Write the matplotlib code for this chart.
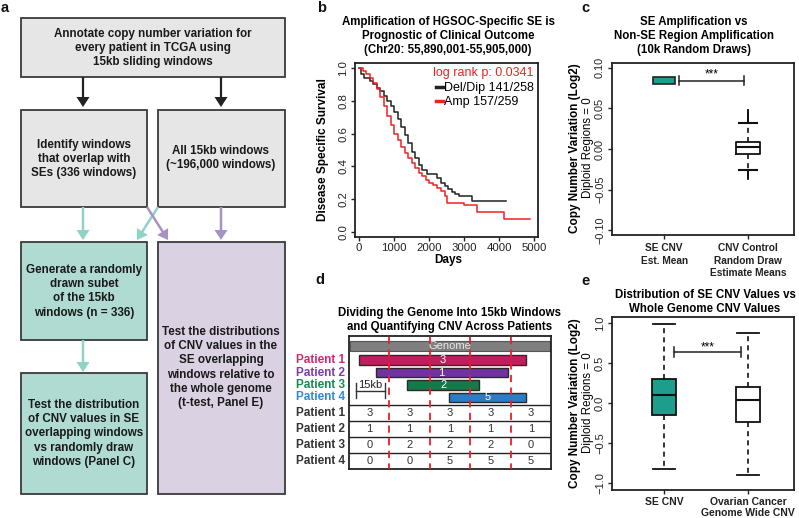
import matplotlib
matplotlib.use('Agg')
import matplotlib.pyplot as plt
from matplotlib.lines import Line2D
import numpy as np

plt.rcParams['font.family'] = ['Liberation Sans', 'DejaVu Sans']

#=================================================================================
# DATA
#=================================================================================
# panel a - flow chart text
a_top = ['Annotate copy number variation for', 'every patient in TCGA using', '15kb sliding windows']
a_mid_left = ['Identify windows', 'that overlap with', 'SEs (336 windows)']
a_mid_right = ['All 15kb windows', '(~196,000 windows)']
a_teal_1 = ['Generate a randomly', 'drawn subet', 'of the 15kb', 'windows (n = 336)']
a_teal_2 = ['Test the distribution', 'of CNV values in SE', 'overlapping windows', 'vs randomly draw', 'windows (Panel C)']
a_purple = ['Test the distributions', 'of CNV values in the', 'SE overlapping', 'windows relative to', 'the whole genome', '(t-test, Panel E)']

# panel b - Kaplan-Meier steps
deldip_days = [0, 60, 150, 300, 400, 500, 600, 700, 800, 900, 1000, 1100, 1200, 1300, 1400,
               1500, 1600, 1700, 1800, 1950, 2240, 2350, 2450, 2550, 2650, 2750, 2860, 3240, 4190]
deldip_surv = [1.0, 0.96, 0.94, 0.92, 0.90, 0.88, 0.86, 0.83, 0.80, 0.77, 0.73, 0.69, 0.64, 0.59, 0.54,
               0.49, 0.45, 0.41, 0.38, 0.355, 0.33, 0.30, 0.28, 0.26, 0.245, 0.235, 0.22, 0.19, 0.19]
amp_days = [0, 100, 200, 300, 400, 500, 600, 700, 800, 900, 1000, 1100, 1200, 1300, 1400, 1500,
            1600, 1700, 1800, 1900, 2000, 2100, 2240, 2350, 2450, 2520, 3000, 3380, 4140, 4900]
amp_surv = [1.0, 0.98, 0.96, 0.94, 0.91, 0.87, 0.82, 0.77, 0.71, 0.65, 0.60, 0.56, 0.52, 0.48, 0.45, 0.42,
            0.39, 0.36, 0.34, 0.32, 0.30, 0.285, 0.27, 0.25, 0.22, 0.18, 0.165, 0.12, 0.08, 0.08]
km_labels = ['Del/Dip 141/258', 'Amp 157/259']
logrank_label = 'log rank p: 0.0341'
b_xticks = [0, 1000, 2000, 3000, 4000, 5000]
b_yticks = [0.0, 0.2, 0.4, 0.6, 0.8, 1.0]

# panel c
c_labels = ['SE CNV\nEst. Mean', 'CNV Control\nRandom Draw\nEstimate Means']
se_est_range = [0.080, 0.089]
draw_stats = dict(q1=-0.006, med=0.002, q3=0.009, whislo=-0.026, whishi=0.032)
draw_fliers = [0.033, 0.034, 0.035, 0.036, 0.037, 0.038, 0.039, 0.040, 0.041, 0.042, 0.043, 0.045, 0.047,
               -0.027, -0.028, -0.029, -0.030, -0.031, -0.032, -0.033, -0.034, -0.036]
c_yticks = [-0.10, -0.05, 0.0, 0.05, 0.10]

# panel d
patients = ['Patient 1', 'Patient 2', 'Patient 3', 'Patient 4']
patient_colors = ['#c21d5c', '#7232a2', '#147a48', '#2c7cc6']
label_colors = ['#d42a6c', '#7d3cae', '#168a50', '#3189d6']
seg_start = [0.25, 0.66, 1.44, 2.48]
seg_end = [4.38, 3.93, 3.22, 4.38]
seg_cnv = [3, 1, 2, 5]
window_cnv = [[3, 3, 3, 3, 3],
              [1, 1, 1, 1, 1],
              [0, 2, 2, 2, 0],
              [0, 0, 5, 5, 5]]

# panel e
e_labels = ['SE CNV', 'Ovarian Cancer\nGenome Wide CNV']
e_q1 = [-0.15, -0.24]
e_med = [0.10, 0.04]
e_q3 = [0.30, 0.20]
e_lo = [-0.82, -0.90]
e_hi = [0.99, 0.875]
e_yticks = [-1.0, -0.5, 0.0, 0.5, 1.0]

#=================================================================================
# FIGURE
#=================================================================================
W, H = 799, 518
fig = plt.figure(figsize=(W / 100, H / 100), dpi=100)

def px_axes(l, t, r, b):
    return fig.add_axes([l / W, 1 - b / H, (r - l) / W, (b - t) / H])

# background axes in pixel units for the schematic parts / free text
ax0 = fig.add_axes([0, 0, 1, 1])
ax0.set_xlim(0, W)
ax0.set_ylim(H, 0)
ax0.axis('off')

def text_lines(x, y0, lines, dy=14.2, **kw):
    for i, s in enumerate(lines):
        ax0.text(x, y0 + i * dy, s, ha='center', va='center', **kw)

TEAL = '#1d9e8c'
for lab, (x, y) in zip('abcde', [(5, 8), (322, 8), (585, 8), (320, 280), (585, 281)]):
    ax0.text(x, y, lab, fontsize=10.5, fontweight='bold', ha='center', va='center', color='#111111')

#---------------------------------------------------------------------------------
# a : flow chart
#---------------------------------------------------------------------------------
def box(l, t, r, b, fc):
    ax0.add_patch(plt.Rectangle((l, t), r - l, b - t, fc=fc, ec='#3a3a3a', lw=1.3))

box(21, 18, 285, 77, '#e6e6e6')
box(21, 110, 147, 207, '#e6e6e6')
box(158, 110, 285, 207, '#e6e6e6')
box(21, 242, 147, 340, '#b0dbd3')
box(21, 373, 147, 494, '#b0dbd3')
box(158, 242, 285, 494, '#dad2e2')

fkw = dict(fontsize=8.4, fontweight='bold', color='#1a1a1a')
text_lines(153, 33.5, a_top, **fkw)
text_lines(84, 145, a_mid_left, **fkw)
text_lines(221, 151, a_mid_right, **fkw)
text_lines(84, 270, a_teal_1, **fkw)
text_lines(84, 405, a_teal_2, **fkw)
text_lines(221, 332, a_purple, **fkw)

def arrow(x0, y0, x1, y1, c, w=2.2):
    ax0.arrow(x0, y0, x1 - x0, y1 - y0, width=w, head_width=13, head_length=10,
              length_includes_head=True, fc=c, ec=c, lw=0)

arrow(83, 77, 83, 107, '#222222')
arrow(221, 77, 221, 107, '#222222')
arrow(83, 207, 83, 240, '#8fd3c5', 2.5)
arrow(158, 207, 137, 240, '#8fd3c5', 2.5)
arrow(147, 207, 168, 240, '#a593c4', 2.5)
arrow(221, 207, 221, 240, '#a593c4', 2.5)
arrow(83, 340, 83, 372, '#8fd3c5', 2.5)

#---------------------------------------------------------------------------------
# b : survival
#---------------------------------------------------------------------------------
def r_style(ax, fs=7.8):
    for s in ax.spines.values():
        s.set_linewidth(1.3)
        s.set_color('#222222')
    ax.tick_params(length=3, width=1, pad=2, labelsize=fs, colors='#222222')
    ax.tick_params(axis='y', labelrotation=90)
    for t in ax.get_yticklabels():
        t.set_va('center')

ax_b = px_axes(355, 63, 538, 237)
ax_b.step(deldip_days, deldip_surv, where='post', color='#222222', lw=1.1)
ax_b.step(amp_days, amp_surv, where='post', color='#ee2222', lw=1.1)
ax_b.set_xlim(-115, 5115)
ax_b.set_ylim(-0.03, 1.03)
ax_b.set_xticks(b_xticks)
ax_b.set_xticklabels([str(t) for t in b_xticks])
ax_b.set_yticks(b_yticks)
ax_b.set_yticklabels(['%.1f' % t for t in b_yticks])
handles = [Line2D([], [], color='#222222', lw=2.5), Line2D([], [], color='#ee2222', lw=2.5)]
leg = ax_b.legend(handles, km_labels, loc='upper right', frameon=False, fontsize=9,
                  handlelength=0.5, handletextpad=0.1, labelspacing=0.15, borderpad=0.15,
                  borderaxespad=0.2, title=logrank_label, title_fontsize=9, alignment='right')
leg.get_title().set_color('#ee2222')
leg._legend_box.sep = 2
text_lines(448, 22, ['Amplification of HGSOC-Specific SE is', 'Prognostic of Clinical Outcome',
                     '(Chr20: 55,890,001-55,905,000)'], fontsize=8.3, fontweight='bold')
ax0.text(448, 260, 'Days', fontsize=8.5, fontweight='bold', ha='center', va='center')
ax0.text(323, 150, 'Disease Specific Survival', fontsize=8.5, fontweight='bold',
         rotation=90, ha='center', va='center')
r_style(ax_b, 8.2)
ax_b.tick_params(axis='x', pad=1.5)

#---------------------------------------------------------------------------------
# c : SE estimate vs random draws
#---------------------------------------------------------------------------------
ax_c = px_axes(612, 63, 794, 235)
ax_c.bar(1, se_est_range[1] - se_est_range[0], bottom=se_est_range[0], width=0.27,
         color=TEAL, edgecolor='#222222', lw=1.2)
stats_c = dict(draw_stats)
stats_c['fliers'] = np.array(draw_fliers)
ax_c.bxp([stats_c], positions=[2], widths=0.29, capwidths=[0.22], showfliers=True,
         boxprops=dict(lw=1.3, color='#111111'), medianprops=dict(lw=1.5, color='#111111'),
         whiskerprops=dict(lw=1.2, ls=(0, (3, 2.5)), color='#111111'),
         capprops=dict(lw=1.5, color='#111111'),
         flierprops=dict(marker='|', ms=3, mec='#111111', mew=1.2))
ax_c.plot([1.18, 1.95], [0.0843, 0.0843], color='#222222', lw=1.1)
ax_c.plot([1.18, 1.18], [0.079, 0.0896], color='#222222', lw=1.1)
ax_c.plot([1.95, 1.95], [0.079, 0.0896], color='#222222', lw=1.1)
ax_c.text(1.565, 0.0925, '***', ha='center', va='center', fontsize=8.5)
ax_c.set_xlim(0.38, 2.547)
ax_c.set_ylim(-0.106, 0.106)
ax_c.set_xticks([1, 2])
ax_c.set_xticklabels(c_labels, fontweight='bold', fontsize=7.3, linespacing=1.3)
ax_c.set_yticks(c_yticks)
ax_c.set_yticklabels(['%.2f' % t if t >= 0 else '\u2212%.2f' % -t for t in c_yticks])
r_style(ax_c, 7.8)
ax_c.tick_params(axis='x', labelsize=7.3, pad=3)
text_lines(694, 22, ['SE Amplification vs', 'Non-SE Region Amplification', '(10k Random Draws)'],
           fontsize=8.3, fontweight='bold')
ax0.text(575, 148, 'Copy Number Variation (Log2)', fontsize=8.5, fontweight='bold',
         rotation=90, ha='center', va='center')
ax0.text(588, 148, 'Diploid Regions = 0', fontsize=8.3, rotation=90, ha='center', va='center')

#---------------------------------------------------------------------------------
# d : genome windows schematic
#---------------------------------------------------------------------------------
ax_d = px_axes(349, 336, 551, 469)
ax_d.set_xlim(0, 5)
ax_d.set_ylim(133, 0)
ax_d.set_xticks([])
ax_d.set_yticks([])
for s in ax_d.spines.values():
    s.set_linewidth(1.3)
    s.set_color('#222222')

ax_d.barh(10, 4.96, left=0.02, height=10, color='#7f7f7f', edgecolor='#555555', lw=0.8)
ax_d.text(2.5, 10, 'Genome', color='#e8e8e8', fontsize=8, ha='center', va='center')
bar_y = [24, 36.5, 49, 61.5]
widths = [e - s for s, e in zip(seg_start, seg_end)]
ax_d.barh(bar_y, widths, left=seg_start, height=9.5, color=patient_colors,
          edgecolor='#2a2a2a', lw=1)
for s, w, y, v in zip(seg_start, widths, bar_y, seg_cnv):
    ax_d.text(s + w / 2, y, str(v), color='white', fontsize=8, ha='center', va='center')

# scale bar
ax_d.plot([0.17, 0.88], [54.7, 54.7], color='#333333', lw=1)
ax_d.plot([0.17, 0.17], [47, 62], color='#333333', lw=1)
ax_d.plot([0.88, 0.88], [47, 62], color='#333333', lw=1)
ax_d.text(0.52, 48.5, '15kb', fontsize=8, ha='center', va='center', color='#222222')

row_top = [69, 85, 101, 117]
for i, row in enumerate(window_cnv):
    ax_d.axhline(row_top[i], color='#222222', lw=1)
    for j, v in enumerate(row):
        ax_d.text(j + 0.5, row_top[i] + 8, str(v), fontsize=8, ha='center', va='center', color='#333333')

ax_d.vlines([1, 2, 3, 4], 1, 133, colors='#e8202a', linestyles=(0, (4, 3)), lw=1.3, zorder=5)

for i, p in enumerate(patients):
    ax_d.text(-1.31, bar_y[i], p, fontsize=8.5, fontweight='bold', color=label_colors[i],
              ha='left', va='center', clip_on=False)
    ax_d.text(-1.31, row_top[i] + 8, p, fontsize=8.5, fontweight='bold', color='#333333',
              ha='left', va='center', clip_on=False)

text_lines(450, 313, ['Dividing the Genome Into 15kb Windows', 'and Quantifying CNV Across Patients'],
           dy=14, fontsize=8.3, fontweight='bold')

#---------------------------------------------------------------------------------
# e : SE CNV vs whole genome CNV
#---------------------------------------------------------------------------------
ax_e = px_axes(612, 317, 794, 490)
stats_e = [dict(q1=e_q1[i], med=e_med[i], q3=e_q3[i], whislo=e_lo[i], whishi=e_hi[i])
           for i in range(2)]
bp = ax_e.bxp(stats_e, positions=[1, 2], widths=0.29, capwidths=[0.26, 0.26], patch_artist=True,
              showfliers=False,
              boxprops=dict(lw=1.3, edgecolor='#111111'), medianprops=dict(lw=1.5, color='#111111'),
              whiskerprops=dict(lw=1.2, ls=(0, (3, 2.5)), color='#111111'),
              capprops=dict(lw=1.3, color='#111111'))
bp['boxes'][0].set_facecolor(TEAL)
bp['boxes'][1].set_facecolor('white')
ax_e.plot([1.12, 1.915], [0.645, 0.645], color='#222222', lw=1.1)
ax_e.plot([1.12, 1.12], [0.585, 0.705], color='#222222', lw=1.1)
ax_e.plot([1.915, 1.915], [0.585, 0.705], color='#222222', lw=1.1)
ax_e.text(1.515, 0.70, '***', ha='center', va='center', fontsize=8.5)
ax_e.set_xlim(0.38, 2.547)
ax_e.set_ylim(-1.084, 1.079)
ax_e.set_xticks([1, 2])
ax_e.set_xticklabels(e_labels, fontweight='bold', fontsize=7.5, linespacing=1.15)
ax_e.set_yticks(e_yticks)
ax_e.set_yticklabels(['%.1f' % t if t >= 0 else '\u2212%.1f' % -t for t in e_yticks])
r_style(ax_e, 8)
ax_e.tick_params(axis='x', labelsize=7.5, pad=2)
text_lines(705, 295, ['Distribution of SE CNV Values vs', 'Whole Genome CNV Values'],
           dy=14.3, fontsize=8.3, fontweight='bold')
ax0.text(575, 403, 'Copy Number Variation (Log2)', fontsize=8.5, fontweight='bold',
         rotation=90, ha='center', va='center')
ax0.text(588, 403, 'Diploid Regions = 0', fontsize=8.3, rotation=90, ha='center', va='center')

fig.savefig('out.png', dpi=100)
